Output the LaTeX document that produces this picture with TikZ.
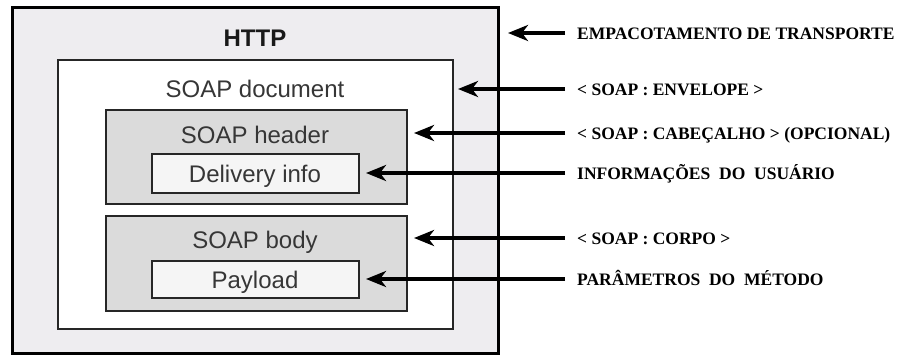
\documentclass[tikz,border=0pt]{standalone}
\usepackage{fontspec}
\setmainfont{Liberation Sans}
\newfontfamily\capfont{Liberation Serif}
\usepackage{xcolor}
\usepackage{tikz}
\usetikzlibrary{arrows.meta}
\definecolor{httpgray}{HTML}{EEEDF0}
\definecolor{partgray}{HTML}{DBDBDB}
\definecolor{infogray}{HTML}{F5F5F5}
\definecolor{inktxt}{HTML}{363636}

\begin{document}
\begin{tikzpicture}[x=1pt,y=-1pt,
  boxtxt/.style={inner sep=0pt, text=inktxt, text height=16pt, text depth=0pt, font=\fontsize{24}{24}\selectfont},
  caption/.style={anchor=west, inner xsep=12pt, inner ysep=0pt, text height=12pt, text depth=0pt, font=\capfont\bfseries\fontsize{17.5}{17.5}\selectfont},
  pointer/.style={line width=4pt, -{Stealth[length=20pt,width=16pt,inset=6pt]}}]
\def\cx{255};
\def\lx{565};
\useasboundingbox (0,0) rectangle (903,356);
\coordinate (H1) at (12,7);
\coordinate (H2) at (498,353);
\coordinate (D1) at (58,60);
\coordinate (D2) at (453,329);
\coordinate (C1) at (106,110);
\coordinate (C2) at (407,204);
\coordinate (I1) at (152,154);
\coordinate (I2) at (359,193);
\coordinate (B1) at (106,216);
\coordinate (B2) at (407,311);
\coordinate (P1) at (152,261);
\coordinate (P2) at (359,298);

\draw[fill=httpgray, draw=black, line width=3pt] (H1) rectangle (H2); %transport%
\draw[fill=white, draw=black!85, line width=2.4pt] (D1) rectangle (D2); %envelope%
\draw[fill=partgray, draw=black!85, line width=2pt] (C1) rectangle (C2); %header%
\draw[fill=infogray, draw=black!85, line width=2pt] (I1) rectangle (I2); %user info%
\draw[fill=partgray, draw=black!85, line width=2pt] (B1) rectangle (B2); %body%
\draw[fill=infogray, draw=black!85, line width=2pt] (P1) rectangle (P2); %parameters%

\node[boxtxt, text=black!90, font=\bfseries\fontsize{24}{24}\selectfont] (http) at (\cx,38) {HTTP};
\node[boxtxt] (doc) at (\cx,89) {SOAP document};
\node[boxtxt] (head) at (\cx,135) {SOAP header};
\node[boxtxt] (info) at (\cx,174) {Delivery info};
\node[boxtxt] (body) at (\cx,240) {SOAP body};
\node[boxtxt] (load) at (\cx,280) {Payload};

% captions on the right
\node[caption] (lhttp) at (\lx,33) {EMPACOTAMENTO DE TRANSPORTE};
\node[caption] (ldoc) at (\lx,89) {< SOAP : ENVELOPE >};
\node[caption] (lhead) at (\lx,133) {< SOAP : CABEÇALHO > (OPCIONAL)};
\node[caption] (linfo) at (\lx,173) {INFORMAÇÕES\ \ DO\ \ USUÁRIO};
\node[caption] (lbody) at (\lx,238) {< SOAP : CORPO >};
\node[caption] (lload) at (\lx,279) {PARÂMETROS\ \ DO\ \ MÉTODO};

\coordinate (thttp) at (508,33);
\coordinate (tdoc) at (458,89);
\coordinate (thead) at (414,133);
\coordinate (tinfo) at (366,173);
\coordinate (tbody) at (414,238);
\coordinate (tload) at (366,279);

\draw[pointer] (lhttp.west) -- (thttp);
\draw[pointer] (ldoc.west) -- (tdoc);
\draw[pointer] (lhead.west) -- (thead);
\draw[pointer] (linfo.west) -- (tinfo);
\draw[pointer] (lbody.west) -- (tbody);
\draw[pointer] (lload.west) -- (tload);

\end{tikzpicture}
\end{document}
